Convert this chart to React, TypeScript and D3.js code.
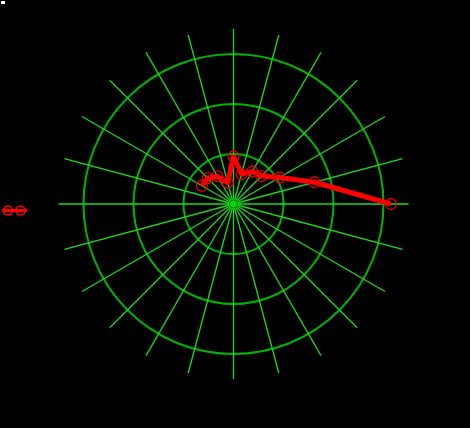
import React from "react";
import { scaleLinear, lineRadial, range } from "d3";

// angles in degrees, counter-clockwise from east
const angles = [0, 15, 30, 45, 60, 75, 90, 105, 120, 135, 150];
const radii = [3.15, 1.68, 1.06, 0.79, 0.75, 0.62, 0.95, 0.44, 0.64, 0.73, 0.73];
const gridRings = [1, 2, 3];
const spokeAngles = range(0, 360, 15);

export default function App() {
  const width = 470;
  const height = 428;
  const cx = 233.5;
  const cy = 204;

  const rScale = scaleLinear().domain([0, 3]).range([0, 150]);
  const spokeLen = 3.5;

  const toRad = (deg: number) => (Math.PI / 2) - (deg * Math.PI) / 180;

  const data = angles.map((a, i) => ({ a, r: radii[i] }));

  const pathGen = lineRadial<{ a: number; r: number }>()
    .angle(d => toRad(d.a))
    .radius(d => rScale(d.r));

  const px = (d: { a: number; r: number }) => rScale(d.r) * Math.cos((d.a * Math.PI) / 180);
  const py = (d: { a: number; r: number }) => -rScale(d.r) * Math.sin((d.a * Math.PI) / 180);

  return (
    <svg width={width} height={height} style={{ display: "block", position: "absolute", left: 0, top: 0, background: "#000" }}>
      <rect x={0} y={0} width={width} height={height} fill="#000" />
      <rect x={1} y={1} width={4} height={3} fill="#fff" />

      <g transform={`translate(${cx},${cy})`}>
        {gridRings.map(v => (
          <circle key={v} r={rScale(v)} fill="none" stroke="#00b400" strokeWidth={2} />
        ))}
        {spokeAngles.map(a => (
          <line
            key={a}
            x1={0}
            y1={0}
            x2={rScale(spokeLen) * Math.cos((a * Math.PI) / 180)}
            y2={-rScale(spokeLen) * Math.sin((a * Math.PI) / 180)}
            stroke="#1ed81e"
            strokeWidth={1.3}
          />
        ))}
        <circle r={4} fill="#00e000" stroke="#006600" strokeWidth={1} />

        <path d={pathGen(data) || ""} fill="none" stroke="#ff0000" strokeWidth={5} strokeLinejoin="round" />
        {data.map(d => (
          <circle key={d.a} cx={px(d)} cy={py(d)} r={5.5} fill="none" stroke="#e00000" strokeWidth={1.3} />
        ))}
      </g>

      {/* legend */}
      <g transform="translate(0,210.5)">
        <line x1={2} x2={27} y1={0} y2={0} stroke="#ff0000" strokeWidth={3} />
        <circle cx={8} cy={0} r={4.5} fill="none" stroke="#ff0000" strokeWidth={1.5} />
        <circle cx={20.5} cy={0} r={4.5} fill="none" stroke="#ff0000" strokeWidth={1.5} />
      </g>
    </svg>
  );
}
